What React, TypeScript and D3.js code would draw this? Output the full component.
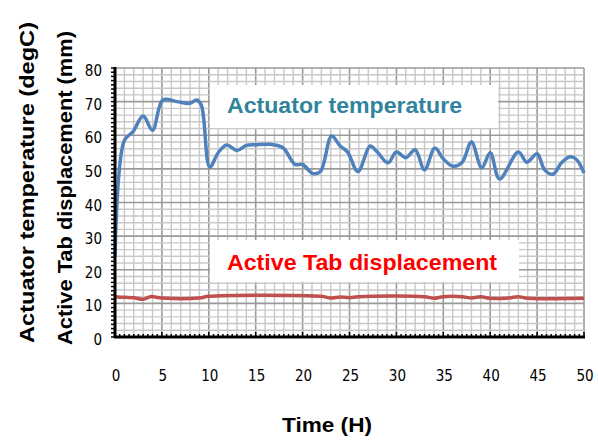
import React from "react";
import * as d3 from "d3";

const tempTime = [0, 1, 1.9, 3, 4, 5.1, 6.6, 8, 8.7, 9.2, 10.1, 11, 11.9, 13, 14, 15, 16.5, 17.9, 19.2, 20, 21.1, 21.9, 23.1, 24, 24.8, 25.9, 27.2, 27.9, 29.1, 30, 31, 32, 33, 34.1, 35, 36, 37, 38, 39.1, 40, 41, 43, 43.9, 45, 45.8, 46.7, 47.6, 48.5, 49.2, 50];
const tempValues = [24, 58.5, 61, 65.7, 61.5, 70.5, 70, 69.5, 70.5, 69, 50.5, 54.8, 57.1, 55.5, 57, 57.2, 57.3, 56.3, 51.3, 51.3, 48.6, 49.2, 59.8, 56.8, 55, 49.2, 56.8, 55.2, 51.8, 55, 53.3, 55.7, 49.7, 56.2, 53, 50.8, 51.9, 58, 50.3, 54.8, 47, 55, 52, 54.5, 49.7, 48.4, 51.8, 53.6, 52.8, 48.8];

const dispTime = [0, 1, 2, 3, 3.8, 5, 9, 10, 22, 23, 24, 25, 26, 33, 34, 35, 37, 38, 39, 40, 42, 43, 44, 50];
const dispValues = [12.0, 11.8, 11.7, 11.2, 12.0, 11.6, 11.6, 12.1, 12.1, 11.6, 11.9, 11.7, 12.0, 12.0, 11.5, 12.0, 12.0, 11.6, 12.0, 11.5, 11.6, 12.0, 11.5, 11.5];

const xTicks = [0, 5, 10, 15, 20, 25, 30, 35, 40, 45, 50];
const yTicks = [0, 10, 20, 30, 40, 50, 60, 70, 80];

const tempLabel = "Actuator temperature";
const dispLabel = "Active Tab displacement";
const yTitle1 = "Actuator temperature  (degC)";
const yTitle2 = "Active Tab displacement (mm)";
const xTitle = "Time (H)";

export default function App() {
  const L = 115, R = 584, T = 68, B = 337;
  const x = d3.scaleLinear().domain([0, 50]).range([L, R]);
  const y = d3.scaleLinear().domain([0, 80]).range([B, T]);

  const minorX = d3.range(0, 50.001, 1);
  const minorY = d3.range(0, 80.001, 2);
  const xTickMinor = d3.range(0, 50.001, 0.5);
  const yTickMinor = d3.range(0, 80.001, 1.25);

  const line = d3
    .line<[number, number]>()
    .x((d) => x(d[0]))
    .y((d) => y(d[1]))
    .curve(d3.curveCatmullRom.alpha(0.5));

  const tempPath = line(tempTime.map((t, i) => [t, tempValues[i]]) as [number, number][]) || "";
  const dispPath = line(dispTime.map((t, i) => [t, dispValues[i]]) as [number, number][]) || "";

  const sans = "'Liberation Sans', Arial, sans-serif";
  const narrow = "'Liberation Sans Narrow', 'DejaVu Sans Condensed', sans-serif";

  return (
    <svg width={598} height={441} style={{ position: "absolute", left: 0, top: 0, background: "#fff" }}>
      <rect x={0} y={0} width={598} height={441} fill="#fff" />
      {minorX.map((v) => (
        <line key={"mx" + v} x1={x(v)} x2={x(v)} y1={T} y2={B} stroke={v % 5 === 0 ? "#9a9a9a" : "#c8c8c8"} strokeWidth={v % 5 === 0 ? 1.6 : 1.4} />
      ))}
      {minorY.map((v) => (
        <line key={"my" + v} x1={L} x2={R} y1={y(v)} y2={y(v)} stroke={v % 10 === 0 ? "#9a9a9a" : "#c8c8c8"} strokeWidth={v % 10 === 0 ? 1.6 : 1.4} />
      ))}
      <rect x={210} y={85} width={288} height={43} fill="#fff" />
      <text x={227} y={113} fontFamily={sans} fontWeight="bold" fontSize={22} fill="#31849B" textLength={235} lengthAdjust="spacingAndGlyphs">{tempLabel}</text>
      <rect x={210} y={240} width={309} height={42} fill="#fff" />
      <text x={227} y={270} fontFamily={sans} fontWeight="bold" fontSize={22} fill="#FF0000" textLength={270} lengthAdjust="spacingAndGlyphs">{dispLabel}</text>

      <path d={tempPath} fill="none" stroke="#4F81BD" strokeWidth={3.5} strokeLinejoin="round" />
      <path d={dispPath} fill="none" stroke="#C0504D" strokeWidth={3.5} strokeLinejoin="round" />

      {xTickMinor.map((v) => (
        <line key={"xt" + v} x1={x(v)} x2={x(v)} y1={B} y2={B - (v % 5 === 0 ? 5 : 3)} stroke="#000" strokeWidth={1.5} />
      ))}
      {yTickMinor.map((v) => (
        <line key={"yt" + v} x1={L} x2={L - 4} y1={y(v)} y2={y(v)} stroke="#000" strokeWidth={1.5} />
      ))}
      <line x1={L} x2={L} y1={T - 1} y2={B + 1} stroke="#000" strokeWidth={3} />
      <line x1={L - 1} x2={R + 1} y1={B} y2={B} stroke="#000" strokeWidth={3} />

      {yTicks.map((v) => (
        <text key={"yl" + v} x={102} y={y(v) + 8} textAnchor="end" fontFamily={narrow} fontSize={15} fill="#000">{v}</text>
      ))}
      {xTicks.map((v) => (
        <text key={"xl" + v} x={x(v) + 1} y={381} textAnchor="middle" fontFamily={narrow} fontSize={15} fill="#000">{v}</text>
      ))}

      <text transform="translate(34,343) rotate(-90)" fontFamily={sans} fontWeight="bold" fontSize={19.5} fill="#000" textLength={321} lengthAdjust="spacingAndGlyphs">{yTitle1}</text>
      <text transform="translate(72,345) rotate(-90)" fontFamily={sans} fontWeight="bold" fontSize={19.5} fill="#000" textLength={314} lengthAdjust="spacingAndGlyphs">{yTitle2}</text>
      <text x={282} y={432} fontFamily={sans} fontWeight="bold" fontSize={20} fill="#000" textLength={90} lengthAdjust="spacingAndGlyphs">{xTitle}</text>
    </svg>
  );
}
